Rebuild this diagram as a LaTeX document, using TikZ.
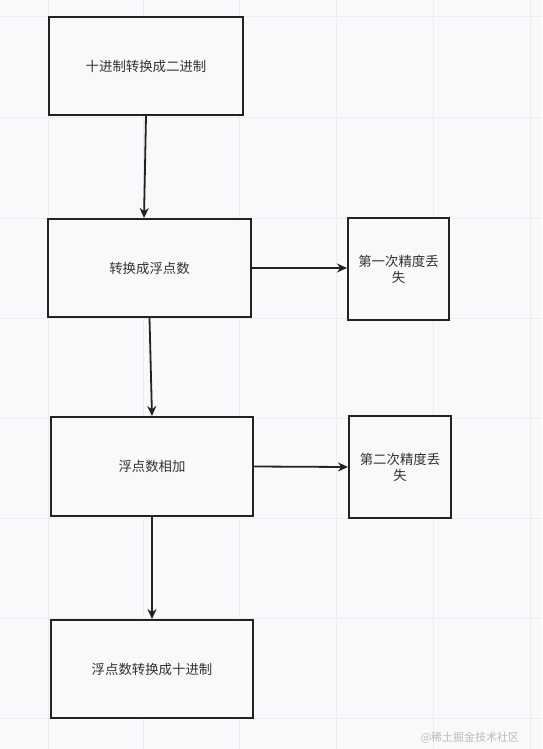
\documentclass[tikz,border=0pt]{standalone}
\usepackage{fontspec}
\setmainfont{Noto Sans CJK SC}
\usetikzlibrary{arrows.meta}
\definecolor{bg}{HTML}{F8F9FB}
\definecolor{gridc}{HTML}{ECEDF0}
\definecolor{linec}{HTML}{222222}
\definecolor{txt}{HTML}{333333}
\definecolor{wm}{HTML}{BBBBBB}
\tikzset{
  box/.style={draw=linec, line width=2pt, fill=bg, inner sep=0pt, text=txt,
    font=\fontsize{13.4}{17}\selectfont, align=center},
  arr/.style={draw=linec, line width=1.8pt, -{Stealth[length=10pt,width=9pt]}},
}
\begin{document}
\begin{tikzpicture}[x=1pt,y=-1pt]
\fill[bg] (0,0) rectangle (542,749);
\useasboundingbox (0,0) rectangle (542,749);
\foreach \x in {48,143.5,239.5,336,433,530}
  \draw[gridc, line width=1pt] (\x,0) -- (\x,749);
\foreach \y in {17,118,218,318,418,518,618,718}
  \draw[gridc, line width=1pt] (0,\y) -- (542,\y);
\node[box, minimum width=194pt, minimum height=98pt] (b1) at (146,66) {十进制转换成二进制};
\node[box, minimum width=203pt, minimum height=98pt] (b2) at (149.5,268) {转换成浮点数};
\node[box, minimum width=101pt, minimum height=102pt, text width=90pt] (b3) at (398.5,269) {第一次精度丢\\[-1pt]失};
\node[box, minimum width=202pt, minimum height=99pt] (b4) at (152,466.5) {浮点数相加};
\node[box, minimum width=102pt, minimum height=102pt, text width=90pt] (b5) at (400,467) {第二次精度丢\\[-1pt]失};
\node[box, minimum width=202pt, minimum height=98pt] (b6) at (152,669) {浮点数转换成十进制};
\draw[arr] (b1.south) -- ([xshift=-5.5pt]b2.north);
\draw[arr] (b2.south) -- (b4.north);
\draw[arr] (b4.south) -- (b6.north);
\draw[arr] (b2.east) -- ([yshift=1pt]b3.west);
\draw[arr] (b4.east) -- (b5.west);
\node[text=wm, font=\fontsize{11}{13}\selectfont, inner sep=0pt] (wmk) at (470,738) {@稀土掘金技术社区};
\end{tikzpicture}
\end{document}
